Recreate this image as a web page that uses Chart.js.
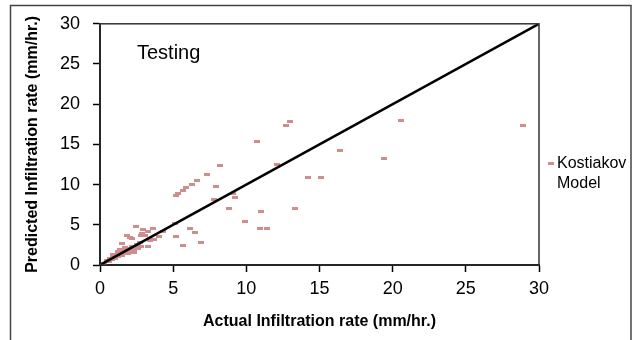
<!DOCTYPE html>
<html>
<head>
<meta charset="utf-8">
<script src="https://cdn.jsdelivr.net/npm/chart.js@4/dist/chart.umd.min.js"></script>
<style>
  html, body { margin: 0; padding: 0; background: #fff; }
  #wrap { width: 632px; height: 340px; position: relative; }
</style>
</head>
<body>
<div id="wrap"><canvas id="chart" width="632" height="340"></canvas></div>
<script>
// actual vs predicted rates (mm/hr.)
const actualRate = [
  13.0, 12.7, 10.75, 12.1, 14.2, 15.1, 20.6, 28.9, 16.4, 19.4,
  8.2, 7.3, 6.6, 6.3, 5.9, 5.65, 5.35, 5.2, 7.9, 9.1, 9.2, 7.8,
  8.8, 11.0, 13.3, 9.9, 10.9, 11.4, 5.1, 6.15, 6.5, 5.2, 5.7, 6.9,
  2.45, 3.65, 4.3, 4.05, 3.7, 3.3, 2.95, 2.85, 2.8, 3.05, 1.85, 2.05,
  2.2, 1.5, 2.7, 2.6, 3.25, 3.4,
  0.3, 0.5, 0.6, 0.7, 0.8, 0.9, 1.0, 1.0, 1.1, 1.2, 1.3, 1.3, 1.4, 1.5,
  1.5, 1.6, 1.7, 1.8, 1.9, 2.0, 2.1, 2.2, 2.3, 2.4, 2.5, 2.6, 1.2, 1.4,
  1.7, 0.9, 2.0, 2.3, 2.6, 2.8
];
const predictedRate = [
  17.8, 17.35, 15.3, 12.5, 10.9, 10.9, 18.0, 17.3, 14.3, 13.2,
  12.4, 11.3, 10.45, 10.05, 9.6, 9.25, 8.9, 8.7, 9.75, 8.9, 8.45, 8.15,
  7.0, 6.7, 7.05, 5.45, 4.55, 4.6, 5.15, 4.6, 4.0, 3.5, 2.4, 2.75,
  4.75, 4.6, 4.15, 3.5, 3.2, 4.2, 4.45, 3.95, 3.7, 3.7, 3.7, 3.45,
  3.3, 2.7, 2.75, 2.6, 2.3, 3.05,
  0.2, 0.5, 0.4, 0.8, 0.7, 0.9, 1.1, 0.8, 1.3, 1.0, 1.2, 1.5, 1.3, 1.7,
  1.2, 1.5, 1.9, 1.6, 1.4, 2.0, 1.8, 2.3, 1.9, 2.2, 2.5, 2.1, 1.7, 1.9,
  2.2, 1.3, 1.5, 1.6, 2.6, 2.3
];
// 1:1 line
const lineX = [0, 30];
const lineY = [0, 30];
const tickValues = [0, 5, 10, 15, 20, 25, 30];

const seriesName = ['Kostiakov', 'Model'];
const pointColor = '#cf8e8e';
const font = '"Liberation Sans", Arial, sans-serif';

// little horizontal dash used as marker
function dash(w, h) {
  const c = document.createElement('canvas');
  c.width = w; c.height = h;
  const g = c.getContext('2d');
  g.fillStyle = pointColor;
  g.fillRect(0, 0, w, h);
  return c;
}
const marker = dash(6, 3);

const scatterPts = actualRate.map((x, i) => ({ x: x, y: predictedRate[i] }));
const linePts = lineX.map((x, i) => ({ x: x, y: lineY[i] }));

// frame, plot border, "Testing" and the legend
const extras = {
  id: 'extras',
  beforeDraw(chart) {
    const ctx = chart.ctx;
    ctx.save();
    ctx.strokeStyle = '#444';
    ctx.lineWidth = 1.5;
    ctx.strokeRect(10.5, 5.5, 620.5, 400);
    ctx.restore();
  },
  afterDatasetsDraw(chart) {
    const ctx = chart.ctx;
    const a = chart.chartArea;
    ctx.save();
    ctx.strokeStyle = '#333';
    ctx.lineWidth = 1.5;
    ctx.strokeRect(a.left, a.top, a.right - a.left, a.bottom - a.top);
    ctx.fillStyle = '#000';
    ctx.font = '20px ' + font;
    ctx.textBaseline = 'middle';
    ctx.fillText('Testing', a.left + 37, 53);
    // legend
    ctx.drawImage(marker, 548, 162);
    ctx.font = '16px ' + font;
    ctx.fillText(seriesName[0], 557, 164);
    ctx.fillText(seriesName[1], 557, 184);
    ctx.restore();
  }
};

const axisFont = { family: font, size: 18 };
const titleFont = { family: font, size: 16, weight: 'bold' };

new Chart(document.getElementById('chart'), {
  type: 'scatter',
  data: {
    datasets: [{
      label: seriesName.join(' '),
      data: scatterPts,
      pointStyle: marker,
      pointRadius: 3,
      pointHoverRadius: 3,
      order: 2
    }, {
      type: 'line',
      label: '1:1',
      data: linePts,
      showLine: true,
      borderColor: '#000',
      borderWidth: 2.5,
      pointRadius: 0,
      fill: false,
      order: 1
    }]
  },
  options: {
    responsive: false,
    animation: false,
    layout: { padding: { left: 0, top: 23, right: 93, bottom: 0 } },
    plugins: { legend: { display: false }, tooltip: { enabled: false } },
    scales: {
      x: {
        type: 'linear',
        min: 0, max: 30,
        afterFit: s => { s.height = 75; },
        afterBuildTicks: s => { s.ticks = tickValues.map(v => ({ value: v })); },
        ticks: { color: '#000', font: axisFont, padding: 6, maxRotation: 0 },
        grid: { drawOnChartArea: false, drawTicks: true, tickLength: 7, tickColor: '#000', tickWidth: 1.5 },
        border: { display: true, color: '#000', width: 2 },
        title: { display: true, text: 'Actual Infiltration rate (mm/hr.)', color: '#000', font: titleFont, padding: { top: 0, bottom: 9 } }
      },
      y: {
        type: 'linear',
        min: 0, max: 30,
        afterFit: s => { s.width = 100; },
        afterBuildTicks: s => { s.ticks = tickValues.map(v => ({ value: v })); },
        ticks: { color: '#000', font: axisFont, padding: 13 },
        grid: { drawOnChartArea: false, drawTicks: true, tickLength: 7, tickColor: '#000', tickWidth: 1.5 },
        border: { display: true, color: '#000', width: 2 },
        title: { display: true, text: 'Predicted Infiltration rate (mm/hr.)', color: '#000', font: titleFont, padding: { top: 23, bottom: 0 } }
      }
    }
  },
  plugins: [extras]
});
</script>
</body>
</html>
